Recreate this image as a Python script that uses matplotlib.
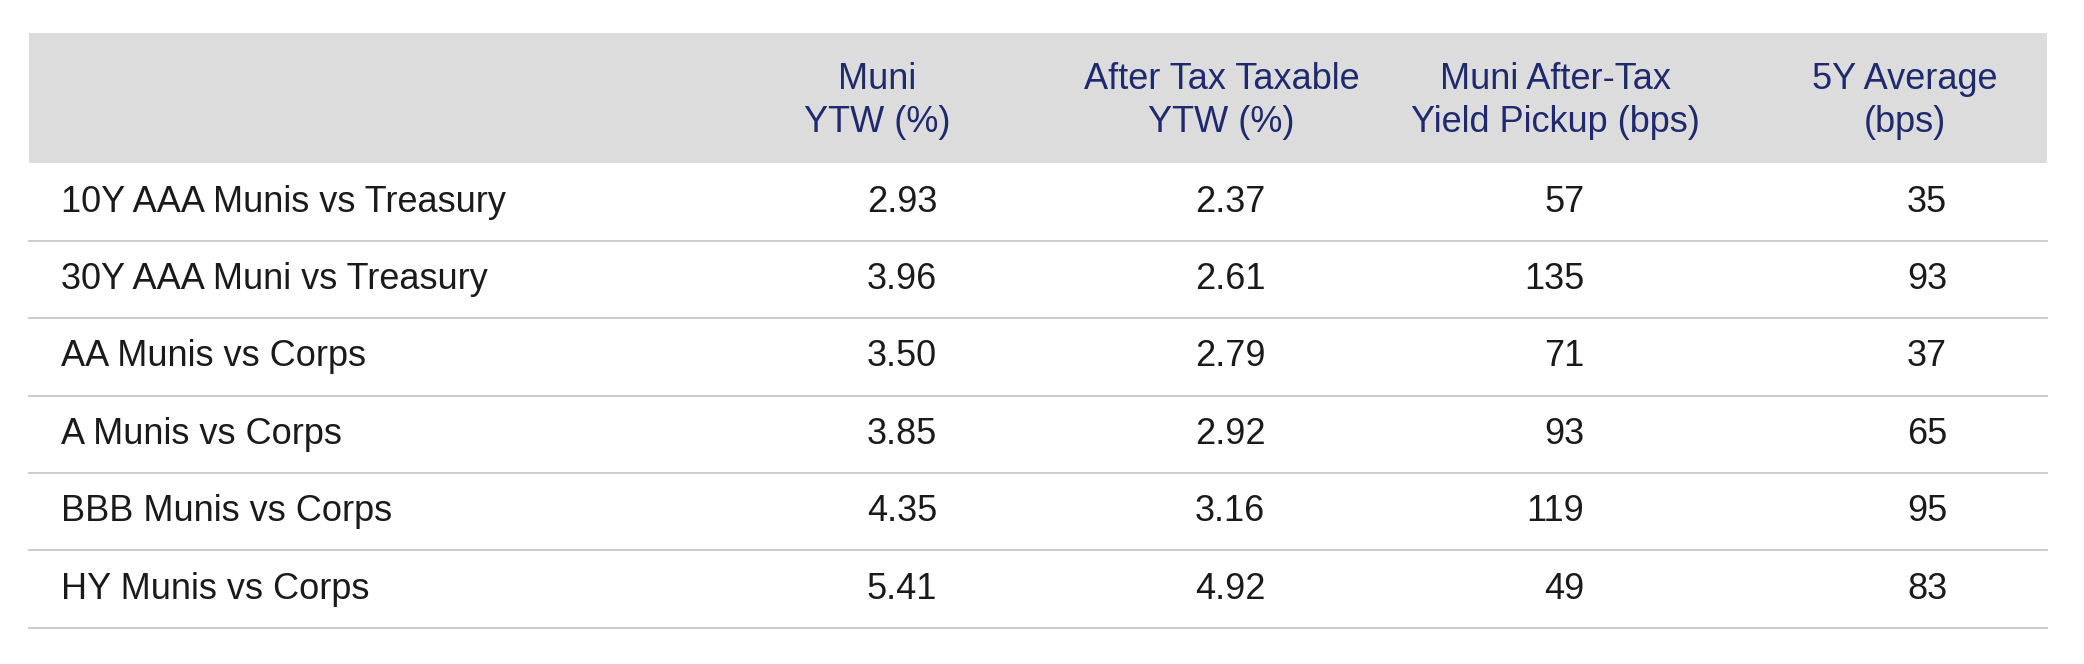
import matplotlib
matplotlib.use("Agg")
import matplotlib.pyplot as plt
from matplotlib.patches import Rectangle
from matplotlib import font_manager as fm

names = {f.name for f in fm.fontManager.ttflist}
FONT = "Liberation Sans Narrow" if "Liberation Sans Narrow" in names else "Liberation Sans"

headers = ["Muni\nYTW (%)", "After Tax Taxable\nYTW (%)", "Muni After-Tax\nYield Pickup (bps)", "5Y Average\n(bps)"]
rows = ["10Y AAA Munis vs Treasury", "30Y AAA Muni vs Treasury", "AA Munis vs Corps",
        "A Munis vs Corps", "BBB Munis vs Corps", "HY Munis vs Corps"]
muni_ytw = ["2.93", "3.96", "3.50", "3.85", "4.35", "5.41"]
taxable_ytw = ["2.37", "2.61", "2.79", "2.92", "3.16", "4.92"]
pickup = ["57", "135", "71", "93", "119", "49"]
avg5y = ["35", "93", "37", "65", "95", "83"]

fig = plt.figure(figsize=(20.84, 6.64), dpi=100)
ax = fig.add_axes([0, 0, 1, 1])
ax.set_xlim(0, 1568); ax.set_ylim(500, 0); ax.axis("off")

L, R = 22, 1540
ax.add_patch(Rectangle((L, 25), R - L, 98, color="#dcdcdc", lw=0))
navy = "#1f2a6e"
hx = [660, 919, 1170, 1433]
FS = 26
for x, h in zip(hx, headers):
    ax.text(x, 76, h, ha="center", va="center", fontsize=FS, color=navy,
            family=FONT, linespacing=1.3)
top = 123; rh = 58.3
cols = [muni_ytw, taxable_ytw, pickup, avg5y]
cx = [705, 952, 1192, 1465]
for i, name in enumerate(rows):
    yc = top + rh * (i + 0.5)
    ax.text(46, yc, name, ha="left", va="center", fontsize=FS, color="#1a1a1a", family=FONT)
    for x, c in zip(cx, cols):
        ax.text(x, yc, c[i], ha="right", va="center", fontsize=FS, color="#1a1a1a", family=FONT)
    ax.plot([L, R], [top + rh * (i + 1)] * 2, color="#c8c8c8", lw=1.3)
fig.savefig("out.png", dpi=100)
